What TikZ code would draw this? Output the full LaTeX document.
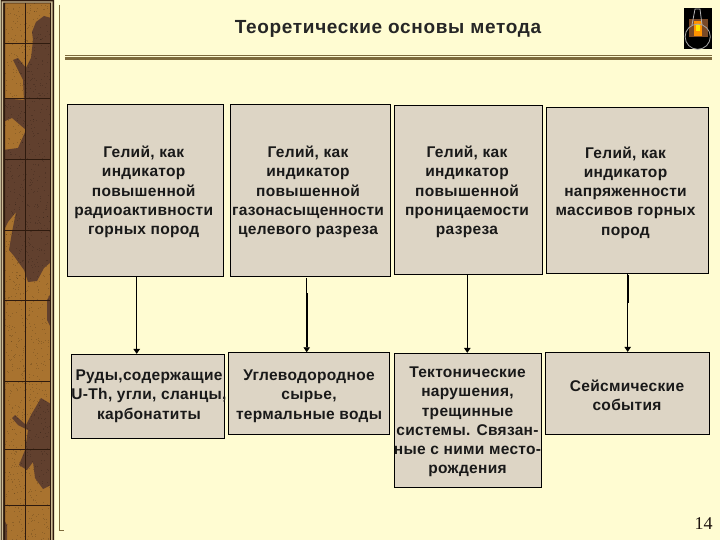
\documentclass[tikz,border=0pt]{standalone}
\usepackage{fontspec}
\setmainfont{Liberation Sans}
\newfontfamily\boxfont[LetterSpace=2]{Liberation Sans}
\newfontfamily\titlefont[LetterSpace=3.5]{Liberation Sans}
\newfontfamily\numfont{Liberation Serif}
\usetikzlibrary{arrows.meta}
\definecolor{pagebg}{HTML}{FFFCD2}
\definecolor{boxfill}{HTML}{DDD5C5}
\definecolor{rulecol}{HTML}{7D6A3C}
\definecolor{mapa}{HTML}{A9732F}
\definecolor{mapb}{HTML}{61402E}
\definecolor{mapline}{HTML}{2E1A0E}
\definecolor{frametan}{HTML}{CDBB95}
\tikzset{x=1pt,y=-1pt,
  infobox/.style={draw=black,line width=0.9pt,fill=boxfill,inner sep=0pt},
  infotext/.style={inner sep=0pt,align=center,font=\boxfont\fontsize{15.5}{19.3}\selectfont\bfseries,text=black!90},
  flow/.style={draw=black,-{Triangle[length=5pt,width=6.5pt]}},
}
\newcommand{\pbox}[8]{%
  \node[infobox,minimum width=#4-#2,minimum height=#5-#3] (#1) at ({(#2+#4)/2},{(#3+#5)/2}) {};
  \node[infotext] (#1t) at (#6,{#7+1}) {#8};}
\begin{document}
\begin{tikzpicture}
\useasboundingbox (0,0) rectangle (720,540);
\fill[pagebg] (0,0) rectangle (720,540);
% map strip
\fill[mapa] (4,3) rectangle (50,540);
\begin{scope}
\clip (4,3) rectangle (50,540);
\fill[mapb] (33,40) -- (32,32) -- (36,22) -- (44,16) -- (51,18) -- (51,262) -- (44,268) -- (37,281) -- (28,282) -- (24,270) -- (14,256) -- (9,250) -- (12,232) -- (16,212) -- (8,222) -- (3,232) -- (3,150) -- (18,148) -- (26,130) -- (12,118) -- (3,122) -- (3,98) -- (12,99) -- (24,100) -- (23,80) -- (13,60) -- (18,58) -- (26,68) -- (31,58) -- cycle;
\fill[mapb] (41,398) -- (51,404) -- (51,485) -- (43,489) -- (35,478) -- (33,462) -- (27,470) -- (19,465) -- (25,450) -- (28,430) -- (18,425) -- (12,418) -- (15,415) -- (26,425) -- (31,415) -- cycle;
\fill[mapb] (51,293) -- (47,300) -- (47,320) -- (51,328) -- cycle;
\fill[mapb] (3,518) -- (7,525) -- (7,540) -- (3,540) -- cycle;
\pgfmathsetseed{7}
\foreach \i in {1,...,1100} {
  \pgfmathsetmacro{\px}{5+45*rnd}
  \pgfmathsetmacro{\py}{3+537*rnd}
  \fill[black,opacity=.16] (\px,\py) rectangle +(1,1);
}
\end{scope}
\draw[mapline,line width=.7pt] (25.7,3) -- (25.7,540) (4,43) -- (50,43) (4,98) -- (50,98) (4,159) -- (50,159) (4,230) -- (50,230) (4,300.5) -- (50,300.5) (4,381) -- (50,381) (4,449) -- (50,449) (4,505.5) -- (50,505.5);
% strip frame
\fill[mapline] (0,0) rectangle (5,540) (50,0) rectangle (54,540) (0,0) rectangle (54,3.5);
\fill[frametan] (1.5,1.5) rectangle (3,540) (51.2,1.5) rectangle (52.6,540) (1.5,1.5) rectangle (52.6,2.6);
\draw[pagebg!70!mapline,line width=.6pt] (0.3,0) -- (0.3,540);
% frame lines
\draw[rulecol,line width=.9pt] (59.5,5) -- (59.5,530) -- (64,530);
\draw[rulecol,line width=1pt] (65,55.5) -- (712,55.5);
\draw[rulecol,line width=3.3pt] (65,58.4) -- (712,58.4);
\node[font=\titlefont\fontsize{19}{22}\selectfont\bfseries,text=black!85] (title) at (388,28.5) {Теоретические основы метода};
% lamp icon
\fill[black] (684,8) rectangle (712,49);
\fill[mapb!85!orange] (689,19) rectangle (708,37);
\fill[orange!85!yellow] (694,21) rectangle (702,36);
\fill[yellow!90!orange] (696,24) rectangle (700,31);
\draw[gray!60,line width=.8pt] (692,25) -- (695,9) -- (700,9) -- (702,25);
\draw[gray!70,line width=.8pt] (697.7,36.7) circle (12.6);
% boxes
\pbox{a}{67.3}{104}{223.3}{276.3}{143.7}{191}{Гелий, как\\индикатор\\повышенной\\радиоактивности\\горных пород}
\pbox{b}{230}{104.3}{390.3}{276.3}{308}{191}{Гелий, как\\индикатор\\повышенной\\газонасыщенности\\целевого разреза}
\pbox{c}{394.3}{105}{542.7}{274.3}{467}{191}{Гелий, как\\индикатор\\повышенной\\проницаемости\\разреза}
\pbox{d}{546.3}{107.3}{708.7}{273.3}{625.5}{191.5}{Гелий, как\\индикатор\\напряженности\\массивов горных\\пород}
\pbox{e}{71.3}{354.3}{224.7}{438.3}{149}{395}{Руды,содержащие\\U-Th, угли, сланцы,\\карбонатиты}
\pbox{f}{228.3}{352.7}{389.7}{434.3}{309}{395}{Углеводородное\\сырье,\\термальные воды}
\pbox{g}{394.3}{353.3}{541.7}{487.3}{467.5}{421}{Тектонические\\нарушения,\\трещинные\\системы. Связан-\\ные с ними место-\\рождения}
\pbox{h}{545.3}{352.3}{709.7}{434.3}{627}{394.5}{Сейсмические\\события}
% connectors
\coordinate (ax) at (136.7,0);
\coordinate (bx) at (306.7,0);
\coordinate (cx) at (467.3,0);
\coordinate (dx) at (627.7,0);
\coordinate (by) at (0,293);
\coordinate (dy) at (0,303);
\draw[flow,line width=1.5pt] (a.south -| ax) -- (e.north -| ax);
\draw[flow,line width=.9pt,shorten <=1.5pt] (b.south -| bx) -- (f.north -| bx);
\draw[line width=1.6pt] (by -| bx) -- ([yshift=5pt]f.north -| bx);
\draw[flow,line width=1pt] (c.south -| cx) -- (g.north -| cx);
\draw[flow,line width=.9pt] (d.south -| dx) -- (h.north -| dx);
\draw[line width=1.8pt] ([yshift=-1pt]d.south -| dx) -- (dy -| dx);
\node[font=\numfont\fontsize{18}{20}\selectfont,text=black!70!mapb] (num) at (703.5,524) {14};
\end{tikzpicture}
\end{document}
